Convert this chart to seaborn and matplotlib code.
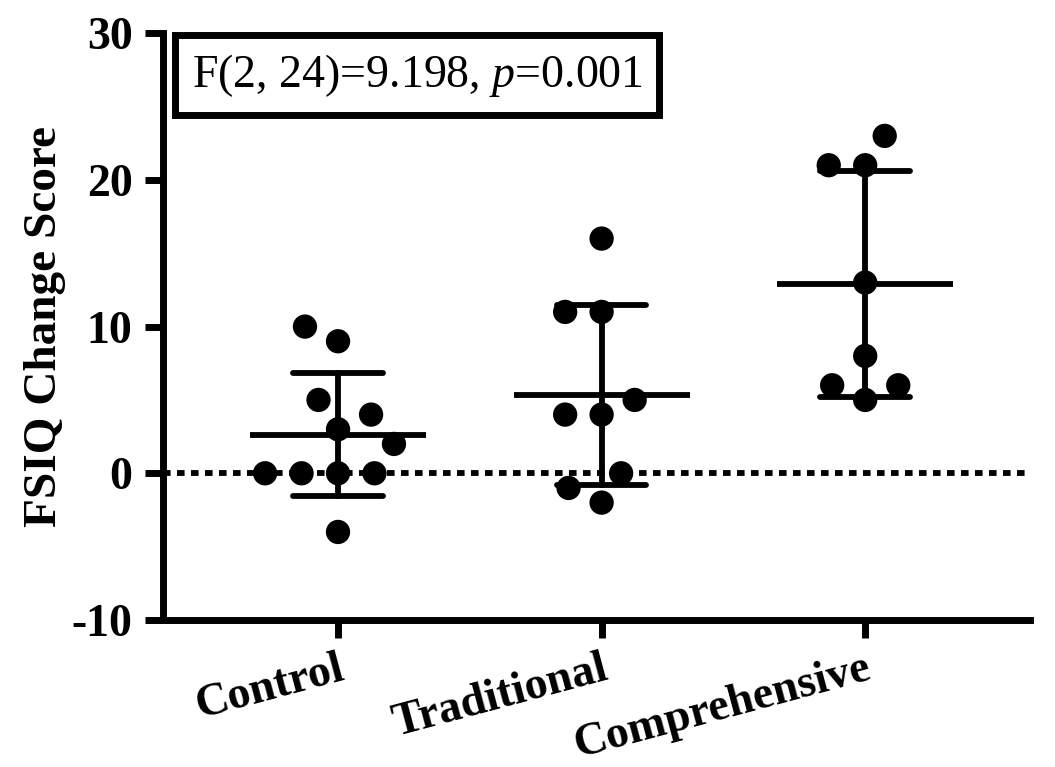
import matplotlib
matplotlib.use("Agg")
import matplotlib.pyplot as plt
import numpy as np
import pandas as pd
import seaborn as sns

# values (FSIQ change per participant)
GROUPS = ["Control", "Traditional", "Comprehensive"]
control = [10, 9, 5, 4, 3, 2, 0, 0, 0, 0, -4]
traditional = [16, 11, 11, 5, 4, 4, 0, -1, -2]
comprehensive = [23, 21, 21, 13, 8, 6, 6, 5]
Y_TICKS = [-10, 0, 10, 20, 30]
STATS_TEXT = "F(2, 24)=9.198, $\\it{p}$=0.001"

df = pd.DataFrame({
    "group": (["Control"] * len(control) + ["Traditional"] * len(traditional)
              + ["Comprehensive"] * len(comprehensive)),
    "score": control + traditional + comprehensive,
})

sns.set_style("ticks")
plt.rcParams["font.family"] = ["Liberation Serif", "DejaVu Serif"]
plt.rcParams["mathtext.fontset"] = "custom"
plt.rcParams["mathtext.it"] = "Liberation Serif:italic"
plt.rcParams["mathtext.rm"] = "Liberation Serif"
plt.rcParams["axes.unicode_minus"] = False
plt.rcParams["text.color"] = "black"
plt.rcParams["axes.labelcolor"] = "black"
plt.rcParams["xtick.color"] = "black"
plt.rcParams["ytick.color"] = "black"
plt.rcParams["axes.edgecolor"] = "black"

LW = 4.2

fig = plt.figure(figsize=(10.55, 7.67), dpi=100)
ax = fig.add_axes([0.1545, 0.1917, 0.822, 0.765])

# dotted zero reference
ax.axhline(0, color="black", lw=LW, ls=(0, (1.3, 1.1)), zorder=1)

# individual points; the invisible edge widens the swarm spacing
sns.swarmplot(data=df, x="group", y="score", order=GROUPS, color="black",
              size=17.5, linewidth=7.5, edgecolor="none", ax=ax, zorder=3)

# mean +/- SD
sns.pointplot(data=df, x="group", y="score", order=GROUPS, errorbar="sd",
              capsize=0.34, linestyle="none", color="black", marker="_",
              markersize=127, markeredgewidth=LW,
              err_kws={"linewidth": LW, "color": "black"}, ax=ax, zorder=4)

ax.set_xlim(-0.664, 2.626)
ax.set_ylim(-10, 30)
ax.set_yticks(Y_TICKS)
ax.set_yticklabels([str(t) for t in Y_TICKS])

for side in ["top", "right"]:
    ax.spines[side].set_visible(False)
for side in ["left", "bottom"]:
    ax.spines[side].set_linewidth(5)
    ax.spines[side].set_capstyle("projecting")
ax.tick_params(axis="both", width=5, length=13, direction="out")
ax.tick_params(axis="y", labelsize=33, pad=9)
ax.tick_params(axis="x", labelsize=33, pad=7)
for lab in ax.get_yticklabels():
    lab.set_fontweight("bold")
for lab in ax.get_xticklabels():
    lab.set_fontweight("bold")
    lab.set_rotation(15)
    lab.set_ha("right")
    lab.set_rotation_mode("anchor")

ax.set_xlabel("")
ax.set_ylabel("FSIQ Change Score", fontsize=34, fontweight="bold", labelpad=4)

ax.text(0.293, 0.928, STATS_TEXT, transform=ax.transAxes, fontsize=33,
        ha="center", va="center",
        bbox=dict(boxstyle="square,pad=0.36", fc="white", ec="black", lw=5))

fig.savefig("out.png", dpi=100)
